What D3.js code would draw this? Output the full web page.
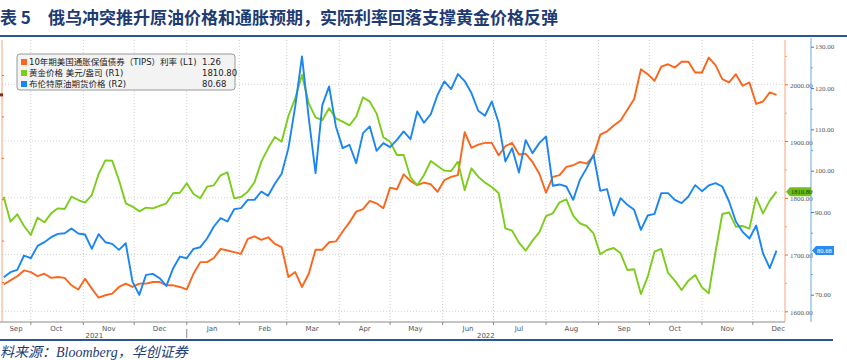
<!DOCTYPE html>
<html>
<head>
<meta charset="utf-8">
<script src="https://cdn.jsdelivr.net/npm/d3@7"></script>
<style>
body { margin: 0; background: #fff; }
</style>
</head>
<body>
<div id="chart"></div>
<script>
///////////////
// data      //
///////////////

// one sample every 4 days, starting 15 Sep 2021
const startDate = new Date(2021, 8, 15);
const stepDays = 4;

// 黄金价格 美元/盎司 (R1)
const goldValues = [1802.0,1757.9,1770.9,1750.3,1734.5,1765.0,1756.8,1772.6,1781.4,1780.3,
	1802.0,1796.1,1791.4,1804.9,1841.9,1866.0,1865.4,1831.4,1790.3,1784.4,
	1776.2,1782.6,1781.4,1785.6,1790.3,1807.9,1809.0,1825.5,1806.7,1799.1,
	1819.6,1822.0,1839.6,1844.9,1799.1,1801.4,1810.8,1827.3,1863.7,1887.2,
	1907.1,1898.9,1944.1,1975.3,2016.4,1966.5,1941.8,1937.1,1957.7,1940.0,
	1934.2,1927.7,1943.0,1977.0,1969.4,1948.8,1906.6,1898.9,1875.4,1875.4,
	1836.1,1822.0,1840.2,1864.8,1856.0,1847.8,1847.2,1863.7,1813.7,1851.9,
	1837.2,1826.7,1819.0,1808.5,1746.2,1742.1,1720.9,1706.8,1724.5,1739.2,
	1767.9,1772.6,1792.0,1797.3,1768.5,1755.0,1750.3,1737.4,1700.4,1708.0,
	1711.5,1702.1,1672.8,1674.0,1630.5,1661.0,1705.1,1709.8,1667.5,1654.0,
	1637.5,1654.0,1664.0,1642.2,1631.7,1704.5,1771.5,1774.4,1749.1,1750.3,
	1745.6,1800.8,1772.6,1795.0,1810.8];

// 布伦特原油期货价格 (R2)
const brentValues = [74.23,75.44,76.01,79.48,78.83,81.82,82.70,83.91,84.72,84.88,
	86.01,84.80,84.56,81.09,84.64,82.70,82.30,80.85,82.46,73.18,
	69.95,74.80,75.04,73.99,72.13,76.41,79.23,78.83,81.09,81.49,
	83.59,86.50,88.52,87.71,90.69,90.94,92.95,92.95,94.97,93.92,
	96.83,99.25,105.46,115.55,127.66,112.73,99.41,115.88,120.40,110.71,
	105.46,106.27,101.83,109.10,110.71,104.82,106.67,105.71,107.48,109.50,
	107.64,114.34,111.60,113.70,118.38,121.61,119.75,123.38,121.69,118.78,
	114.50,113.29,116.76,111.68,102.24,105.46,99.57,107.40,104.25,106.67,
	108.29,96.35,96.67,96.18,92.95,97.80,100.62,103.85,95.13,95.54,
	89.16,93.36,91.74,90.53,85.69,89.16,89.56,94.57,94.57,92.95,
	92.15,93.76,96.51,95.05,96.43,96.99,96.18,92.55,87.71,85.21,
	83.59,86.74,80.04,76.41,80.68];

// 10年期美国通胀保值债券（TIPS）利率 (L1)
const tipsValues = [-1.03,-0.98,-0.93,-0.86,-0.88,-0.93,-0.90,-0.95,-0.94,-0.95,
	-1.04,-1.09,-0.96,-1.08,-1.19,-1.16,-1.14,-1.06,-1.02,-1.06,
	-1.02,-1.02,-1.00,-1.00,-1.04,-1.04,-1.06,-1.09,-0.90,-0.76,
	-0.76,-0.71,-0.60,-0.62,-0.64,-0.66,-0.48,-0.45,-0.49,-0.46,
	-0.54,-0.58,-0.94,-0.88,-1.06,-0.90,-0.61,-0.61,-0.52,-0.51,
	-0.39,-0.28,-0.15,-0.12,-0.02,-0.05,-0.11,0.14,0.12,0.30,
	0.22,0.17,0.20,0.18,0.09,0.23,0.27,0.29,0.81,0.62,
	0.66,0.68,0.68,0.53,0.64,0.68,0.54,0.55,0.45,0.31,
	0.08,0.27,0.29,0.39,0.41,0.45,0.43,0.52,0.78,0.82,
	0.89,0.95,1.08,1.21,1.57,1.51,1.43,1.60,1.63,1.59,
	1.66,1.66,1.53,1.53,1.71,1.62,1.45,1.41,1.51,1.37,
	1.41,1.15,1.18,1.29,1.26];

const goldTicks = [1600, 1700, 1800, 1900, 2000];
const goldMinorTicks = [1650, 1750, 1850, 1950, 2050];
// 80.00 sits under the last-value tag, as in the source chart
const brentTicks = [70, 90, 100, 110, 120, 130];
const brentMinorTicks = [75, 80, 85, 95, 105, 115, 125];
const tipsTicks = [-1.0, -0.5, 0, 0.5, 1.0, 1.5];

const monthNames = ['Sep','Oct','Nov','Dec','Jan','Feb','Mar','Apr','May','Jun','Jul','Aug','Sep','Oct','Nov','Dec'];
const yearLabels = ['2021', '2022'];

const legendLabels = ['10年期美国通胀保值债券（TIPS）利率 (L1)', '黄金价格 美元/盎司 (R1)', '布伦特原油期货价格 (R2)'];
const legendValues = ['1.26', '1810.80', '80.68'];

const titleText = '俄乌冲突推升原油价格和通胀预期，实际利率回落支撑黄金价格反弹';
const sourceText = '料来源：Bloomberg，华创证券';

///////////////
// layout    //
///////////////

const width = 847;
const height = 360;

const plotLeft = 2;
const plotRight = 785;
const plotTop = 40;
const plotBottom = 322;

const goldAxisX = 785;
const brentAxisX = 811;

const orange = '#fa661c';
const green = '#7ccc1c';
const blue = '#1b86f2';
const navy = '#1d3b72';

var dates = d3.range(goldValues.length).map(function(i) { return d3.timeDay.offset(startDate, i * stepDays); });

var xScale = d3.scaleTime()
	.domain([new Date(2021, 8, 14), new Date(2022, 11, 20)])
	.range([plotLeft, plotRight]);

var yGold = d3.scaleLinear().domain([1600, 2000]).range([311.3, 84.3]);
var yBrent = d3.scaleLinear().domain([70, 130]).range([294.7, 46.7]);
var yTips = d3.scaleLinear().domain([-1, 1.5]).range([282, 75]);

var svg = d3.select('#chart').append('svg')
	.attr('width', width)
	.attr('height', height)
	.style('font-family', 'DejaVu Sans, "Noto Sans CJK SC", sans-serif');

svg.append('rect').attr('width', width).attr('height', height).attr('fill', '#fff');

///////////////
// title     //
///////////////

svg.append('text')
	.attr('x', 0).attr('y', 24)
	.attr('font-family', '"Noto Sans CJK SC", sans-serif')
	.attr('font-size', 17).attr('font-weight', 'bold')
	.attr('fill', navy)
	.text('表 5');

svg.append('text')
	.attr('x', 48).attr('y', 24)
	.attr('font-family', '"Noto Sans CJK SC", sans-serif')
	.attr('font-size', 17).attr('font-weight', 'bold')
	.attr('fill', navy)
	.text(titleText);

svg.append('rect').attr('x', 0).attr('y', 35).attr('width', width).attr('height', 2).attr('fill', '#2d5697');
svg.append('rect').attr('x', 0).attr('y', 339).attr('width', 833).attr('height', 2).attr('fill', '#2d5697');

svg.append('text')
	.attr('x', 0).attr('y', 357)
	.attr('font-family', '"Liberation Serif", "Noto Sans CJK SC", serif')
	.attr('font-style', 'italic')
	.attr('font-size', 14)
	.attr('fill', navy)
	.text(sourceText);

///////////////
// grid      //
///////////////

var monthStarts = d3.timeMonth.range(new Date(2021, 9, 1), new Date(2022, 11, 2));

svg.append('g').selectAll('line')
	.data(monthStarts)
	.join('line')
	.attr('x1', function(d) { return xScale(d); })
	.attr('x2', function(d) { return xScale(d); })
	.attr('y1', plotTop)
	.attr('y2', plotBottom)
	.attr('stroke', '#cfcfcf')
	.attr('stroke-dasharray', '1,2');

svg.append('g').selectAll('line')
	.data(goldTicks)
	.join('line')
	.attr('x1', plotLeft)
	.attr('x2', plotRight)
	.attr('y1', function(d) { return yGold(d); })
	.attr('y2', function(d) { return yGold(d); })
	.attr('stroke', '#cfcfcf')
	.attr('stroke-dasharray', '1,2');

///////////////
// x axis    //
///////////////

svg.append('line')
	.attr('x1', 0).attr('x2', plotRight)
	.attr('y1', plotBottom).attr('y2', plotBottom)
	.attr('stroke', '#8a8a8a');

svg.append('g').selectAll('line')
	.data(monthStarts)
	.join('line')
	.attr('x1', function(d) { return xScale(d); })
	.attr('x2', function(d) { return xScale(d); })
	.attr('y1', plotBottom)
	.attr('y2', plotBottom + 3)
	.attr('stroke', '#8a8a8a');

var monthMids = d3.timeMonth.range(new Date(2021, 8, 1), new Date(2022, 11, 2)).map(function(d) {
	return d3.timeDay.offset(d, 15);
});

svg.append('g').selectAll('text')
	.data(monthMids)
	.join('text')
	.attr('x', function(d) { return Math.max(xScale(d), 16); })
	.attr('y', 331)
	.attr('text-anchor', 'middle')
	.attr('font-size', 7)
	.attr('fill', '#555')
	.text(function(d, i) { return monthNames[i]; });

var jan1 = xScale(new Date(2022, 0, 1));
svg.append('line')
	.attr('x1', jan1).attr('x2', jan1)
	.attr('y1', 329).attr('y2', 338)
	.attr('stroke', '#8a8a8a');

svg.append('text')
	.attr('x', (plotLeft + jan1) / 2).attr('y', 338)
	.attr('text-anchor', 'middle').attr('font-size', 7).attr('fill', '#555')
	.text(yearLabels[0]);

svg.append('text')
	.attr('x', (jan1 + plotRight) / 2).attr('y', 338)
	.attr('text-anchor', 'middle').attr('font-size', 7).attr('fill', '#555')
	.text(yearLabels[1]);

///////////////
// y axes    //
///////////////

function styleAxis(g, color) {
	g.select('.domain').remove();
	g.selectAll('line').attr('stroke', color);
	g.selectAll('text')
		.attr('fill', '#555')
		.attr('font-size', 7)
		.attr('font-family', '"Liberation Serif", serif');
}

// left (TIPS) axis: line and ticks only
svg.append('line')
	.attr('x1', plotLeft).attr('x2', plotLeft)
	.attr('y1', plotTop).attr('y2', plotBottom)
	.attr('stroke', '#f6a47c');

svg.append('g')
	.attr('transform', 'translate(' + plotLeft + ',0)')
	.call(d3.axisRight(yTips).tickValues(tipsTicks).tickSize(2).tickFormat(''))
	.call(styleAxis, orange);

svg.append('rect')
	.attr('x', 0).attr('y', yTips(tipsValues[tipsValues.length - 1]) - 1.5)
	.attr('width', 3).attr('height', 3)
	.attr('fill', '#8a2f10');

// gold axis (R1)
svg.append('line')
	.attr('x1', goldAxisX).attr('x2', goldAxisX)
	.attr('y1', plotTop).attr('y2', plotBottom)
	.attr('stroke', '#f6a47c');

svg.append('g')
	.attr('transform', 'translate(' + goldAxisX + ',0)')
	.call(d3.axisRight(yGold).tickValues(goldMinorTicks).tickSize(2).tickFormat(''))
	.call(styleAxis, '#f6a47c');

svg.append('g')
	.attr('transform', 'translate(' + goldAxisX + ',0)')
	.call(d3.axisRight(yGold).tickValues(goldTicks).tickSize(3).tickPadding(2).tickFormat(d3.format('.2f')))
	.call(styleAxis, orange)
	.call(function(g) { g.selectAll('text').attr('dy', '0.45em'); });

// brent axis (R2)
svg.append('line')
	.attr('x1', brentAxisX).attr('x2', brentAxisX)
	.attr('y1', 38).attr('y2', plotBottom)
	.attr('stroke', '#6aa8e0');

svg.append('g')
	.attr('transform', 'translate(' + brentAxisX + ',0)')
	.call(d3.axisRight(yBrent).tickValues(brentMinorTicks).tickSize(2).tickFormat(''))
	.call(styleAxis, '#6aa8e0');

svg.append('g')
	.attr('transform', 'translate(' + brentAxisX + ',0)')
	.call(d3.axisRight(yBrent).tickValues(brentTicks).tickSize(3).tickPadding(1).tickFormat(d3.format('.2f')))
	.call(styleAxis, blue);

///////////////
// lines     //
///////////////

function drawSeries(values, yScale, color) {
	var line = d3.line()
		.x(function(d, i) { return xScale(dates[i]); })
		.y(function(d) { return yScale(d); });
	svg.append('path')
		.datum(values)
		.attr('d', line)
		.attr('fill', 'none')
		.attr('stroke', color)
		.attr('stroke-width', 1.9)
		.attr('stroke-linejoin', 'round');
}

drawSeries(tipsValues, yTips, orange);
drawSeries(goldValues, yGold, green);
drawSeries(brentValues, yBrent, blue);

///////////////
// last tags //
///////////////

function drawTag(x, y, w, label, fill, textColor) {
	var pts = [[x, y], [x + 4, y - 4.5], [x + w, y - 4.5], [x + w, y + 4.5], [x + 4, y + 4.5]];
	svg.append('path')
		.attr('d', d3.line()(pts) + 'Z')
		.attr('fill', fill);
	svg.append('text')
		.attr('x', x + 5).attr('y', y + 2.3)
		.attr('font-size', 6.5)
		.attr('font-family', '"Liberation Serif", serif')
		.attr('fill', textColor)
		.text(label);
}

drawTag(goldAxisX + 1, yGold(goldValues[goldValues.length - 1]), 25, legendValues[1], '#6cbf1a', '#1c3300');
drawTag(brentAxisX + 1, yBrent(brentValues[brentValues.length - 1]), 22, legendValues[2], '#2b8cf0', '#fff');

///////////////
// legend    //
///////////////

var legendColors = [orange, green, blue];

var legend = svg.append('g');

legend.append('rect')
	.attr('x', 17).attr('y', 54)
	.attr('width', 218).attr('height', 36)
	.attr('rx', 3)
	.attr('fill', '#f3f3f3')
	.attr('stroke', '#9a9a9a');

legendLabels.forEach(function(label, i) {
	var y = 62 + i * 11;
	legend.append('rect')
		.attr('x', 21).attr('y', y - 3)
		.attr('width', 6).attr('height', 6)
		.attr('fill', legendColors[i]);
	legend.append('text')
		.attr('x', 29).attr('y', y + 3)
		.attr('font-size', 8.5)
		.attr('fill', '#222')
		.text(label);
	legend.append('text')
		.attr('x', 202).attr('y', y + 3)
		.attr('font-size', 8.5)
		.attr('fill', '#222')
		.text(legendValues[i]);
});
</script>
</body>
</html>
